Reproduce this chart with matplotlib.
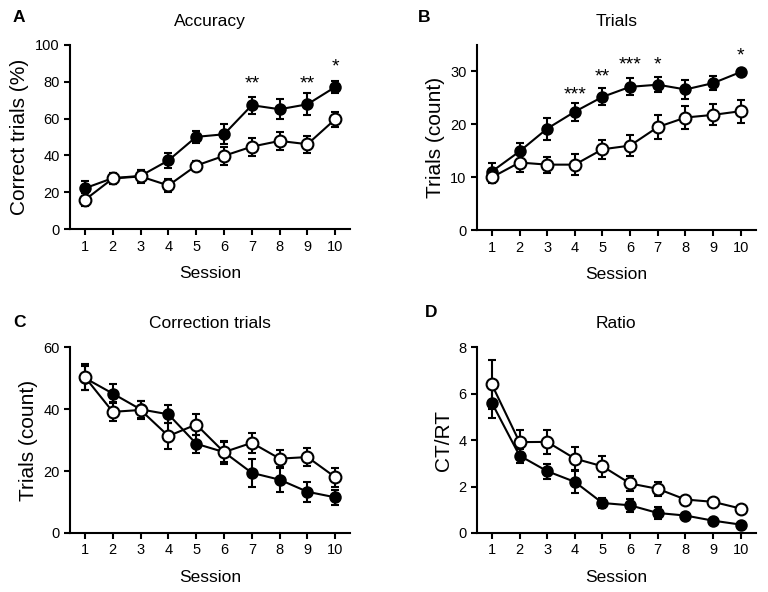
import matplotlib
matplotlib.use("Agg")
import matplotlib.pyplot as plt

plt.rcParams['font.family'] = ['Liberation Sans', 'DejaVu Sans']

sessions = [1, 2, 3, 4, 5, 6, 7, 8, 9, 10]

# Panel A: Accuracy (Correct trials %)
acc_filled = [22.2, 27.7, 28.9, 37.3, 50.1, 51.5, 67.3, 65.1, 67.8, 77.2]
acc_filled_err = [4.0, 3.0, 3.0, 4.0, 3.2, 5.5, 4.7, 5.4, 6.0, 3.3]
acc_open = [15.9, 27.5, 28.6, 23.7, 34.5, 39.8, 44.8, 47.9, 46.1, 59.7]
acc_open_err = [3.5, 3.0, 3.5, 3.5, 2.5, 5.0, 4.9, 5.0, 4.5, 4.0]
acc_stars = {7: "**", 9: "**", 10: "*"}

# Panel B: Trials (count)
tr_filled = [11.1, 14.9, 19.2, 22.4, 25.2, 27.1, 27.5, 26.6, 27.8, 29.9]
tr_filled_err = [1.6, 1.5, 2.1, 1.7, 1.6, 1.6, 1.4, 1.8, 1.3, 0.5]
tr_open = [10.0, 12.8, 12.4, 12.4, 15.3, 16.0, 19.5, 21.3, 21.8, 22.5]
tr_open_err = [1.1, 1.7, 1.5, 2.0, 1.8, 2.0, 2.3, 2.2, 2.0, 2.2]
tr_stars = {4: "***", 5: "**", 6: "***", 7: "*", 10: "*"}

# Panel C: Correction trials (count)
ct_filled = [50.0, 45.0, 39.9, 38.3, 28.8, 26.1, 19.4, 17.2, 13.3, 11.5]
ct_filled_err = [3.8, 3.2, 2.8, 2.9, 2.9, 3.2, 4.5, 4.1, 3.2, 2.5]
ct_open = [50.3, 39.1, 39.7, 31.3, 35.0, 26.1, 29.1, 24.0, 24.5, 18.0]
ct_open_err = [4.3, 3.1, 2.9, 4.1, 3.3, 3.7, 3.2, 2.9, 2.8, 3.0]

# Panel D: Ratio CT/RT
ra_filled = [5.6, 3.33, 2.66, 2.2, 1.29, 1.19, 0.86, 0.75, 0.53, 0.36]
ra_filled_err = [0.65, 0.3, 0.33, 0.48, 0.2, 0.28, 0.25, 0.1, 0.08, 0.05]
ra_open = [6.39, 3.91, 3.92, 3.2, 2.87, 2.13, 1.90, 1.44, 1.34, 1.05]
ra_open_err = [1.05, 0.52, 0.53, 0.49, 0.46, 0.31, 0.3, 0.05, 0.05, 0.05]

fig = plt.figure(figsize=(7.68, 5.92), dpi=100)

panels = [
    dict(pos=[0.0911, 0.613, 0.365, 0.311], title="Accuracy", letter="A",
         ylabel="Correct trials (%)", ylim=(0, 100), yticks=[0, 20, 40, 60, 80, 100],
         f=acc_filled, fe=acc_filled_err, o=acc_open, oe=acc_open_err,
         stars=acc_stars, star_y={7: 79, 9: 79, 10: 88}, ylfs=15),
    dict(pos=[0.621, 0.611, 0.363, 0.313], title="Trials", letter="B",
         ylabel="Trials (count)", ylim=(0, 35), yticks=[0, 10, 20, 30],
         f=tr_filled, fe=tr_filled_err, o=tr_open, oe=tr_open_err,
         stars=tr_stars, star_y={4: 25.6, 5: 29.0, 6: 31.3, 7: 31.3, 10: 33.0}, ylfs=15),
    dict(pos=[0.0911, 0.0997, 0.365, 0.314], title="Correction trials", letter="C",
         ylabel="Trials (count)", ylim=(0, 60), yticks=[0, 20, 40, 60],
         f=ct_filled, fe=ct_filled_err, o=ct_open, oe=ct_open_err,
         stars={}, star_y={}, ylfs=15),
    dict(pos=[0.621, 0.0997, 0.363, 0.314], title="Ratio", letter="D",
         ylabel="CT/RT", ylim=(0, 8), yticks=[0, 2, 4, 6, 8],
         f=ra_filled, fe=ra_filled_err, o=ra_open, oe=ra_open_err,
         stars={}, star_y={}, ylfs=15),
]

letter_pos = {"A": (0.024, 0.970), "B": (0.552, 0.970), "C": (0.026, 0.455), "D": (0.561, 0.472)}

for p in panels:
    ax = fig.add_axes(p["pos"])
    ax.errorbar(sessions, p["f"], yerr=p["fe"], color="black", marker="o",
                markersize=7.5, markerfacecolor="black", markeredgecolor="black",
                markeredgewidth=1.5, linewidth=1.5, elinewidth=1.5, capsize=3,
                capthick=1.5, zorder=3)
    ax.errorbar(sessions, p["o"], yerr=p["oe"], color="black", marker="o",
                markersize=8.5, markerfacecolor="white", markeredgecolor="black",
                markeredgewidth=1.5, linewidth=1.5, elinewidth=1.5, capsize=3,
                capthick=1.5, zorder=4)
    for s, txt in p["stars"].items():
        ax.text(s, p["star_y"][s], txt, ha="center", va="center", fontsize=14)
    ax.set_xlim(0.46, 10.54)
    ax.set_ylim(*p["ylim"])
    ax.set_yticks(p["yticks"])
    ax.set_xticks(sessions)
    ax.spines["top"].set_visible(False)
    ax.spines["right"].set_visible(False)
    ax.spines["left"].set_linewidth(1.5)
    ax.spines["bottom"].set_linewidth(1.5)
    ax.tick_params(axis="both", direction="out", length=4, width=1.5, labelsize=10.5)
    ax.set_xlabel("Session", fontsize=12.5, labelpad=9)
    ax.set_ylabel(p["ylabel"], fontsize=p["ylfs"])
    ax.set_title(p["title"], fontsize=12.5, pad=14)
    lx, ly = letter_pos[p["letter"]]
    fig.text(lx, ly, p["letter"], fontsize=12.5, fontweight="bold", ha="center", va="center")

fig.savefig("out.png", dpi=100)
